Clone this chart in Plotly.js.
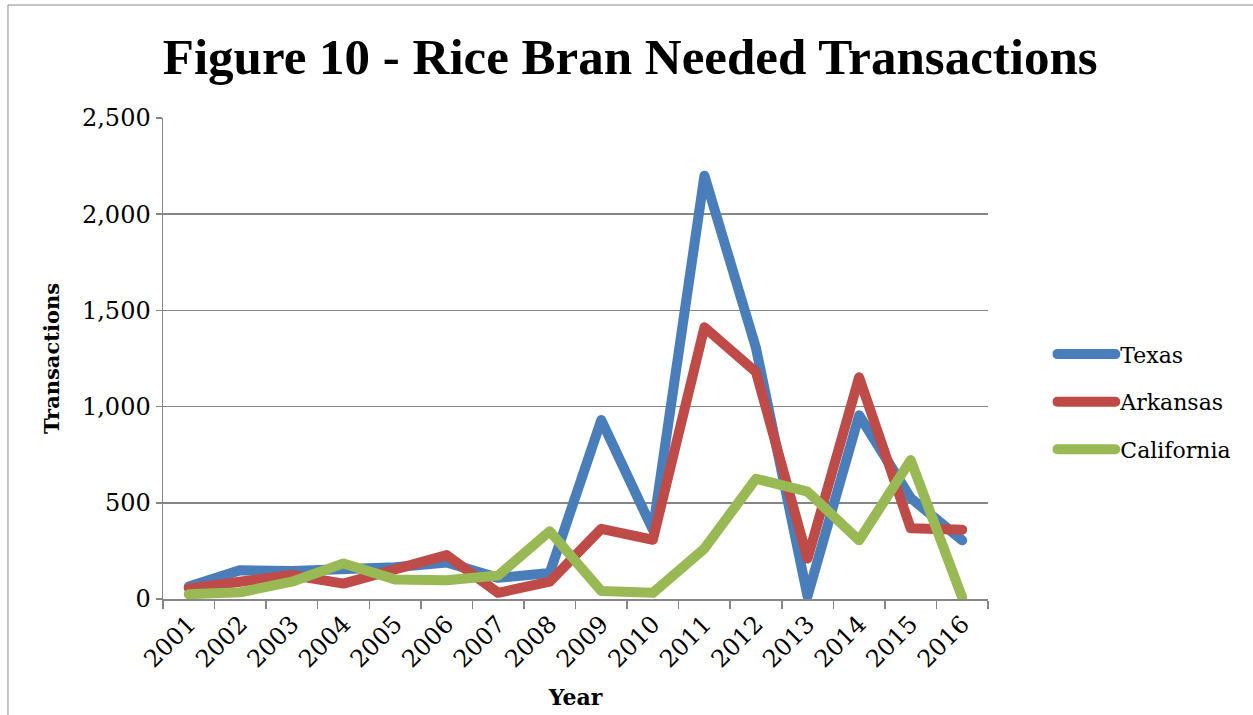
<!DOCTYPE html>
<html>
<head>
<meta charset="utf-8">
<script src="https://cdn.plot.ly/plotly-3.0.1.min.js"></script>
<style>
html,body{margin:0;padding:0;background:#fff;}
#chart{width:1253px;height:715px;}
.scatterlayer path.js-line{stroke-linejoin:round;stroke-linecap:round;}
.legend path.js-line{stroke-linecap:round;}
</style>
</head>
<body>
<div id="chart"></div>
<script>
const years = ["2001","2002","2003","2004","2005","2006","2007","2008","2009","2010","2011","2012","2013","2014","2015","2016"];
const texas = [65, 150, 145, 150, 165, 190, 110, 135, 930, 360, 2200, 1305, 15, 955, 525, 305];
const arkansas = [55, 95, 125, 80, 150, 228, 32, 90, 365, 308, 1412, 1180, 210, 1152, 368, 360];
const california = [25, 35, 90, 185, 102, 97, 122, 352, 42, 32, 262, 625, 558, 305, 722, 8];
const seriesNames = ["Texas", "Arkansas", "California"];
const colors = ["#4A7EBB", "#BE4B48", "#98B954"];
const serif = "DejaVu Serif, serif";
const titleSerif = "Liberation Serif, Times New Roman, serif";

const data = [texas, arkansas, california].map((vals, i) => ({
  type: "scatter",
  mode: "lines",
  x: years,
  y: vals,
  name: seriesNames[i],
  line: {color: colors[i], width: 10},
  legendgroup: "g" + i
}));

const layout = {
  width: 1253,
  height: 715,
  margin: {l: 163, r: 265, t: 118, b: 116},
  paper_bgcolor: "#fff",
  plot_bgcolor: "#fff",
  showlegend: true,
  title: {
    text: "<b>Figure 10 - Rice Bran Needed Transactions</b>",
    font: {family: titleSerif, size: 51, color: "#000"},
    x: 0.503, xanchor: "center",
    y: 0.922, yanchor: "middle"
  },
  xaxis: {
    type: "category",
    range: [-0.5, 15.5],
    tickson: "boundaries",
    ticks: "outside",
    ticklen: 8,
    tickcolor: "#868686",
    tickwidth: 1.5,
    showline: true,
    linecolor: "#868686",
    linewidth: 1.5,
    showgrid: false,
    tickangle: -45,
    tickfont: {family: serif, size: 24, color: "#000"},
    title: {text: "<b>Year</b>", font: {family: serif, size: 22, color: "#000"}, standoff: 17},
    fixedrange: true
  },
  yaxis: {
    range: [0, 2500],
    dtick: 500,
    tickformat: ",",
    ticks: "outside",
    ticklen: 6,
    tickcolor: "#868686",
    tickwidth: 1.5,
    showline: true,
    linecolor: "#868686",
    linewidth: 1.5,
    showgrid: true,
    gridcolor: "#868686",
    gridwidth: 1.5,
    zeroline: false,
    tickfont: {family: serif, size: 24, color: "#000"},
    title: {text: "<b>Transactions</b>", font: {family: serif, size: 21, color: "#000"}, standoff: 16},
    fixedrange: true
  },
  legend: {
    x: 1.078, xanchor: "left",
    y: 0.41, yanchor: "middle",
    font: {family: serif, size: 22, color: "#000"},
    itemwidth: 58,
    tracegroupgap: 16,
    traceorder: "grouped",
    bgcolor: "rgba(0,0,0,0)"
  },
  shapes: [
    {type: "line", xref: "paper", yref: "paper", x0: -0.1879, x1: 1.4, y0: 1.2349, y1: 1.2349, line: {color: "#8c8c8c", width: 1}},
    {type: "line", xref: "paper", yref: "paper", x0: -0.1879, x1: -0.1879, y0: 1.2349, y1: -0.3, line: {color: "#8c8c8c", width: 1}}
  ]
};

Plotly.newPlot("chart", data, layout, {displayModeBar: false, staticPlot: true});
</script>
</body>
</html>
